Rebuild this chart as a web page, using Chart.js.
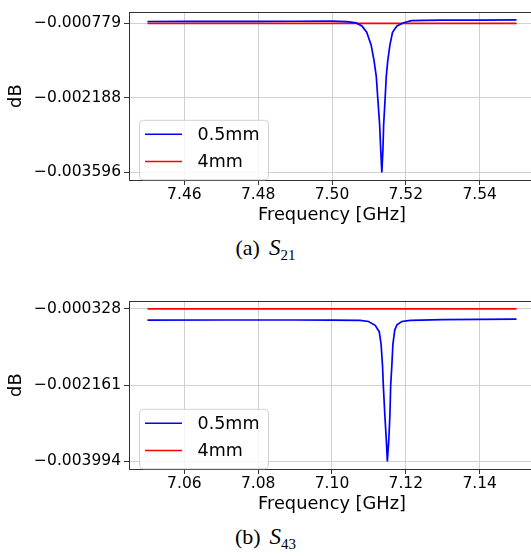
<!DOCTYPE html>
<html>
<head>
<meta charset="utf-8">
<script src="https://cdn.jsdelivr.net/npm/chart.js@4.4.0/dist/chart.umd.min.js"></script>
<style>
html, body { margin: 0; padding: 0; background: #fff; width: 531px; height: 556px; overflow: hidden; }
body { position: relative; }
.plot { position: absolute; left: 0; }
.cap { position: absolute; left: 0; width: 531px; text-align: center; font-family: "Liberation Serif", serif; font-size: 22px; line-height: 22px; color: #000; }
.cap i { margin-left: 9px; font-size: 23px; }
.cap sub { font-size: 15px; vertical-align: -5px; line-height: 0; }
</style>
</head>
<body>
<canvas id="s21" class="plot" style="top:0px" width="560" height="232"></canvas>
<div class="cap" style="top:237px">(a)<i>S</i><sub>21</sub></div>
<canvas id="s43" class="plot" style="top:289px" width="560" height="232"></canvas>
<div class="cap" style="top:526px">(b)<i>S</i><sub>43</sub></div>
<script>
const seriesLabels = ['0.5mm', '4mm'];

// S21
const xTicksS21 = [7.46, 7.48, 7.50, 7.52, 7.54];
const yTicksS21 = [-0.000779, -0.002188, -0.003596];
const freqS21 = [7.450, 7.460, 7.470, 7.480, 7.490, 7.500, 7.5040, 7.5065, 7.5081, 7.5094,
  7.5106, 7.5114, 7.5120, 7.5124, 7.5129, 7.5132, 7.5135, 7.5138, 7.5140, 7.5144,
  7.5147, 7.5151, 7.5157, 7.5164, 7.5176, 7.5194, 7.5215, 7.525, 7.530, 7.540, 7.550];
const thinS21 = [-0.000743, -0.000742, -0.000741, -0.000740, -0.000738, -0.000737, -0.000746, -0.000770, -0.000826, -0.000946,
  -0.001185, -0.001486, -0.001786, -0.002192, -0.002685, -0.003163, -0.003596, -0.003163, -0.002685, -0.002192,
  -0.001786, -0.001486, -0.001185, -0.000946, -0.000826, -0.000766, -0.000728, -0.000720, -0.000717, -0.000715, -0.000713];
const freqThickS21 = [7.450, 7.550];
const thickS21 = [-0.000779, -0.000779];

// S43
const xTicksS43 = [7.06, 7.08, 7.10, 7.12, 7.14];
const yTicksS43 = [-0.000328, -0.002161, -0.003994];
const freqS43 = [7.050, 7.070, 7.090, 7.100, 7.1076, 7.1099, 7.1117, 7.1128, 7.1133, 7.1137,
  7.1139, 7.1143, 7.1147, 7.1150, 7.1154, 7.1157, 7.1159, 7.1162, 7.1165, 7.1170,
  7.1176, 7.1189, 7.1212, 7.130, 7.140, 7.150];
const thinS43 = [-0.000595, -0.000594, -0.000594, -0.000596, -0.000605, -0.000631, -0.000723, -0.000875, -0.001179, -0.001713,
  -0.002161, -0.002853, -0.003460, -0.003994, -0.003460, -0.002853, -0.002161, -0.001713, -0.001179, -0.000837,
  -0.000709, -0.000631, -0.000602, -0.000585, -0.000578, -0.000572];
const freqThickS43 = [7.050, 7.150];
const thickS43 = [-0.000328, -0.000328];

const FONT = '"DejaVu Sans", sans-serif';

// frame + legend inside the axes (matplotlib style)
const boxPlugin = {
  id: 'box',
  afterDraw(chart) {
    const { ctx, chartArea: a } = chart;
    ctx.save();
    ctx.strokeStyle = '#333';
    ctx.lineWidth = 1;
    ctx.strokeRect(Math.round(a.left) + 0.5, Math.round(a.top) + 0.5, Math.round(a.right - a.left), Math.round(a.bottom - a.top));

    const x = a.left + 10, y = a.top + 107.5, w = 129, h = 59.5;
    ctx.fillStyle = 'rgba(255,255,255,0.8)';
    ctx.strokeStyle = 'rgba(204,204,204,0.9)';
    ctx.beginPath();
    ctx.roundRect(x + 0.5, y + 0.5, w, h, 4);
    ctx.fill();
    ctx.stroke();
    ctx.font = '17.5px ' + FONT;
    ctx.textBaseline = 'middle';
    chart.data.datasets.forEach((ds, i) => {
      const ly = y + 14.5 + i * 27.3;
      ctx.strokeStyle = ds.borderColor;
      ctx.lineWidth = 1.5;
      ctx.beginPath();
      ctx.moveTo(x + 6, ly);
      ctx.lineTo(x + 43, ly);
      ctx.stroke();
      ctx.fillStyle = '#000';
      ctx.fillText(ds.label, x + 58.5, ly + 1);
    });
    ctx.restore();
  }
};

const fmtDb = v => '\u2212' + Math.abs(v).toFixed(6);

function makeChart(id, freq, thin, freqThick, thick, xTicks, yTicks) {
  const all = thin.concat(thick);
  const yMin = Math.min(...all), yMax = Math.max(...all);
  const xMin = freq[0], xMax = freq[freq.length - 1];
  const yPad = (yMax - yMin) * 0.05, xPad = (xMax - xMin) * 0.05;

  new Chart(document.getElementById(id), {
    type: 'line',
    data: {
      datasets: [
        { label: seriesLabels[0], data: freq.map((f, i) => ({ x: f, y: thin[i] })),
          borderColor: '#0000ff', borderWidth: 1.7, pointRadius: 0, tension: 0 },
        { label: seriesLabels[1], data: freqThick.map((f, i) => ({ x: f, y: thick[i] })),
          borderColor: '#ff0000', borderWidth: 1.7, pointRadius: 0, tension: 0 }
      ]
    },
    options: {
      responsive: false,
      animation: false,
      events: [],
      layout: { padding: { top: 4, right: 25, left: 0, bottom: 0 } },
      plugins: { legend: { display: false }, tooltip: { enabled: false } },
      scales: {
        x: {
          type: 'linear',
          min: xMin - xPad,
          max: xMax + xPad,
          afterBuildTicks: s => { s.ticks = xTicks.map(v => ({ value: v })); },
          afterFit: s => { s.height = 52; },
          ticks: { callback: v => v.toFixed(2), font: { family: FONT, size: 15.5 }, color: '#000', padding: 1, maxRotation: 0, autoSkip: false },
          grid: { color: '#d0d0d0', lineWidth: 1, tickColor: '#333', tickLength: 5 },
          border: { display: false },
          title: { display: true, text: 'Frequency [GHz]', color: '#000', font: { family: FONT, size: 17.8 }, padding: { top: 0, bottom: 6 } }
        },
        y: {
          min: yMin - yPad,
          max: yMax + yPad,
          afterBuildTicks: s => { s.ticks = yTicks.map(v => ({ value: v })); },
          afterFit: s => { s.width = 129; },
          ticks: { callback: fmtDb, font: { family: FONT, size: 15.5 }, color: '#000', padding: 3, autoSkip: false },
          grid: { color: '#d0d0d0', lineWidth: 1, tickColor: '#333', tickLength: 5 },
          border: { display: false },
          title: { display: true, text: 'dB', color: '#000', font: { family: FONT, size: 17.8 }, padding: { top: 6, bottom: 0 } }
        }
      }
    },
    plugins: [boxPlugin]
  });
}

makeChart('s21', freqS21, thinS21, freqThickS21, thickS21, xTicksS21, yTicksS21);
makeChart('s43', freqS43, thinS43, freqThickS43, thickS43, xTicksS43, yTicksS43);
</script>
</body>
</html>
